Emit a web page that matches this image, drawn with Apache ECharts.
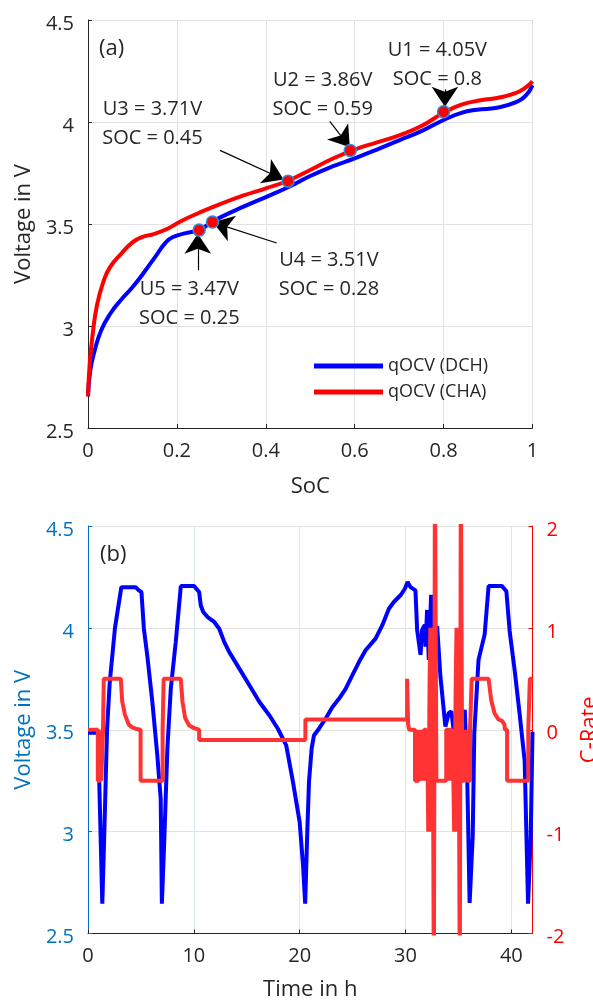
<!DOCTYPE html>
<html>
<head>
<meta charset="utf-8">
<script src="https://cdn.jsdelivr.net/npm/echarts@6/dist/echarts.min.js"></script>
<style>html,body{margin:0;padding:0;background:#fff}#c{width:593px;height:1001px}</style>
</head>
<body>
<div id="c"></div>
<script>
// ---------- (a) qOCV curves: [SoC, Voltage] ----------
const qocvDCH = [
  [0,2.655],[0.005,2.78],[0.015,2.88],[0.03,2.98],[0.05,3.06],[0.075,3.13],[0.1,3.19],[0.125,3.26],
  [0.15,3.335],[0.175,3.41],[0.19,3.435],[0.22,3.455],[0.25,3.47],[0.275,3.505],[0.3,3.535],
  [0.35,3.585],[0.4,3.632],[0.45,3.68],[0.5,3.735],[0.55,3.782],[0.6,3.822],[0.65,3.865],[0.7,3.91],
  [0.75,3.955],[0.8,4.01],[0.84,4.045],[0.875,4.06],[0.92,4.07],[0.96,4.095],[0.985,4.13],[1.0,4.18]
];
const qocvCHA = [
  [0,2.655],[0.004,2.82],[0.01,2.95],[0.02,3.1],[0.035,3.22],[0.05,3.29],[0.075,3.355],[0.1,3.41],
  [0.12,3.435],[0.15,3.452],[0.18,3.478],[0.21,3.515],[0.25,3.555],[0.3,3.6],[0.35,3.64],[0.4,3.675],
  [0.45,3.712],[0.5,3.765],[0.55,3.82],[0.6,3.865],[0.65,3.9],[0.7,3.935],[0.75,3.98],[0.8,4.045],
  [0.84,4.085],[0.88,4.105],[0.92,4.118],[0.96,4.14],[0.985,4.17],[1.0,4.2]
];
const seriesNamesA = ['qOCV (DCH)', 'qOCV (CHA)'];
// annotated points [SoC, V]
const markerPoints = [[0.80,4.05],[0.59,3.86],[0.45,3.71],[0.28,3.51],[0.25,3.47]];
const annoLabels = [
  ['U1 = 4.05V','SOC = 0.8'],
  ['U2 = 3.86V','SOC = 0.59'],
  ['U3 = 3.71V','SOC = 0.45'],
  ['U4 = 3.51V','SOC = 0.28'],
  ['U5 = 3.47V','SOC = 0.25']
];
// text anchor (data coords) and arrows tail -> tip (data coords)
const annoTextAt = [[0.786,4.28],[0.528,4.135],[0.145,3.989],[0.542,3.251],[0.228,3.11]];
const annoArrows = [
  [[0.803,4.16],[0.803,4.075]],
  [[0.544,4.003],[0.589,3.876]],
  [[0.297,3.861],[0.440,3.718]],
  [[0.4245,3.407],[0.281,3.508]],
  [[0.247,3.273],[0.247,3.452]]
];

// ---------- (b) time series: [time h, value] ----------
const voltage = [
  [0,3.485],[0.95,3.485],[1.35,2.646],[1.52,2.95],[1.8,3.5],[2.05,3.73],[2.55,4.0],[3.15,4.2],
  [4.5,4.2],[4.8,4.184],[5.05,4.176],[5.28,3.996],[5.6,3.865],[6.08,3.636],[6.55,3.374],[6.87,3.161],
  [6.98,2.646],[7.18,2.916],[7.5,3.407],[7.82,3.70],[8.29,3.93],[8.77,4.205],[10.03,4.205],[10.5,4.176],
  [10.66,4.11],[10.89,4.078],[11.3,4.053],[11.93,4.029],[12.4,3.996],[12.88,3.93],[13.35,3.881],
  [14.3,3.8],[15.25,3.718],[16.2,3.636],[17.15,3.57],[17.94,3.505],[18.73,3.423],[19.37,3.243],
  [20.0,3.047],[20.32,2.834],[20.52,2.646],[20.72,2.998],[20.88,3.243],[21.13,3.407],[21.35,3.472],
  [21.82,3.505],[22.45,3.554],[23.08,3.611],[23.71,3.652],[24.34,3.701],[24.97,3.767],[25.6,3.832],
  [26.23,3.89],[27.17,3.947],[27.8,4.012],[28.43,4.094],[28.9,4.127],[29.53,4.16],[29.94,4.192],
  [30.2,4.225],[30.47,4.2],[30.94,4.184],[31.1,3.99],[31.42,3.868],[31.57,3.99],[31.82,4.015],
  [31.89,3.908],[32.04,4.088],[32.2,3.843],[32.42,4.162],[32.58,3.99],[32.99,4.007],[33.3,3.761],
  [33.77,3.516],[34.09,3.582],[34.34,3.59],[34.65,3.451],[35.19,3.484],[35.6,3.598],[35.82,3.304],
  [36.06,2.65],[36.35,2.977],[36.5,3.484],[36.9,3.843],[37.48,3.968],[37.85,4.205],[39.12,4.205],
  [39.53,4.18],[39.84,3.985],[40.32,3.79],[40.79,3.575],[41.26,3.346],[41.58,2.646],[41.83,2.97],[42.0,3.49]
];
const cRate = [
  [0,0],[0.93,0],[0.93,-0.5],[1.15,-0.5],[1.15,0],[1.25,0],[1.25,-0.5],[1.42,-0.5],[1.42,0],[1.49,0],
  [1.49,0.5],[3.1,0.5],[3.23,0.28],[3.48,0.15],[3.86,0.05],[4.18,0.023],[4.5,0.01],[4.6,0],[4.97,0],
  [4.97,-0.5],[7.05,-0.5],[7.05,0],[7.15,0],[7.15,0.5],[8.77,0.5],[8.92,0.28],[9.18,0.115],[9.56,0.042],
  [10.03,0.016],[10.2,0],[10.5,0],[10.5,-0.1],[20.54,-0.1],[20.54,0.1],[30.15,0.1],[30.15,0.5],
  [30.25,0.5],[30.25,0.05],[30.35,0],[30.9,0],[30.9,-0.5],[31.25,-0.5],[31.25,0],[31.4,0],[31.4,-0.5],
  [31.5,-0.5],[31.5,0],[31.68,0],[31.68,-0.5],[31.75,-0.5],[31.75,0],[31.95,0],[31.95,-0.5],[32.05,-0.5],
  [32.05,0],[32.15,0],[32.15,-1],[32.28,-1],[32.28,0.5],[32.35,0.5],[32.35,1],[32.5,1],[32.5,-1],
  [32.55,-1],[32.55,1],[32.65,1],[32.68,-2.6],[32.75,-2.6],[32.78,2.6],[32.88,2.6],[32.92,-0.5],
  [33.85,-0.5],[33.85,0],[34.05,0],[34.05,-0.5],[34.15,-0.5],[34.15,0],[34.35,0],[34.35,-0.5],
  [34.45,-0.5],[34.45,0],[34.6,0],[34.6,-1],[34.75,-1],[34.75,0.5],[34.82,0.5],[34.82,1],[34.95,1],
  [34.95,-1],[35.0,-1],[35.0,1],[35.1,1],[35.13,-2.6],[35.2,-2.6],[35.23,2.6],[35.32,2.6],[35.36,-0.5],
  [35.55,-0.5],[35.55,0],[35.65,0],[35.65,-0.5],[35.75,-0.5],[35.75,0],[35.82,0],[35.82,-0.5],
  [36.1,-0.5],[36.1,0],[36.25,0],[36.25,0.5],[37.85,0.5],[38.1,0.29],[38.42,0.16],[38.8,0.1],
  [39.1,0.09],[39.35,0.05],[39.4,0],[39.6,0],[39.6,-0.5],[41.6,-0.5],[41.6,0],[41.75,0],[41.75,0.5],[42,0.5]
];
const seriesNamesB = ['Voltage', 'C-Rate'];

// ---------- styling ----------
const FONT = '"Open Sans", "Noto Sans", sans-serif';
const TXT = '#262626';
const VBLUE = '#0072BD';
const RRED = '#FF0000';

function valueAxis(o) {
  const c = o.color || TXT;
  return Object.assign({
    type: 'value',
    nameLocation: 'middle',
    nameTextStyle: { fontSize: 22, color: c, fontFamily: FONT },
    axisLine: { show: true, onZero: false, lineStyle: { color: c, width: 1 } },
    axisTick: { show: true, inside: true, length: 4, lineStyle: { color: c } },
    axisLabel: Object.assign({ fontSize: 20, color: c, fontFamily: FONT, margin: 13 }, o.label || {}),
    splitLine: { show: true, lineStyle: { color: o.gridColor || '#e2e2e2', width: 1 } }
  }, o.extra);
}
const yLabelShift = { verticalAlign: 'top', lineHeight: 8, margin: 14 };

const option = {
  animation: false,
  backgroundColor: '#ffffff',
  textStyle: { fontFamily: FONT },
  title: [
    { text: '(a)', left: 99, top: 36, padding: 0, textStyle: { fontSize: 22, fontWeight: 'normal', color: TXT, fontFamily: FONT, lineHeight: 26 } },
    { text: '(b)', left: 100, top: 542, padding: 0, textStyle: { fontSize: 22, fontWeight: 'normal', color: TXT, fontFamily: FONT, lineHeight: 26 } }
  ],
  legend: {
    data: seriesNamesA.map(n => ({ name: n, icon: 'rect' })),
    orient: 'vertical', left: 314, top: 356, padding: 0,
    itemWidth: 69, itemHeight: 5, itemGap: 6,
    textStyle: { fontSize: 18, color: TXT, fontFamily: FONT, lineHeight: 20 },
    selectedMode: false
  },
  grid: [
    { left: 88, top: 20, width: 444.5, height: 408, outerBoundsMode: 'none', containLabel: false },
    { left: 88, top: 526, width: 444.5, height: 407.5, outerBoundsMode: 'none', containLabel: false }
  ],
  xAxis: [
    valueAxis({ extra: { gridIndex: 0, min: 0, max: 1, interval: 0.2, name: 'SoC', nameGap: 48 } }),
    valueAxis({ gridColor: '#dde6ef', label: { showMaxLabel: false }, extra: { gridIndex: 1, min: 0, max: 42, interval: 10, name: 'Time in h', nameGap: 45 } })
  ],
  yAxis: [
    valueAxis({ label: yLabelShift, extra: { gridIndex: 0, min: 2.5, max: 4.5, interval: 0.5, name: 'Voltage in V', nameGap: 50 } }),
    valueAxis({ color: VBLUE, label: yLabelShift, gridColor: '#dde6ef', extra: { gridIndex: 1, min: 2.5, max: 4.5, interval: 0.5, name: 'Voltage in V', nameGap: 50 } }),
    valueAxis({ color: RRED, label: yLabelShift, extra: { gridIndex: 1, position: 'right', min: -2, max: 2, interval: 1, name: 'C-Rate', nameGap: 46 } })
  ],
  series: [
    { name: seriesNamesA[0], type: 'line', xAxisIndex: 0, yAxisIndex: 0, data: qocvDCH,
      showSymbol: false, smooth: 0.5, lineStyle: { color: '#0000FF', width: 4 }, itemStyle: { color: '#0000FF' }, z: 2 },
    { name: seriesNamesA[1], type: 'line', xAxisIndex: 0, yAxisIndex: 0, data: qocvCHA,
      showSymbol: false, smooth: 0.5, lineStyle: { color: '#FF0000', width: 4 }, itemStyle: { color: '#FF0000' }, z: 3 },
    { name: 'points', type: 'scatter', xAxisIndex: 0, yAxisIndex: 0, data: markerPoints,
      symbolSize: 12, itemStyle: { color: '#FF0000', borderColor: '#2c8ddc', borderWidth: 1.5, opacity: 1 }, z: 5 },
    { name: 'annotations', type: 'scatter', xAxisIndex: 0, yAxisIndex: 0, symbolSize: 1, silent: true, z: 6,
      itemStyle: { opacity: 0 },
      data: annoTextAt.map((p, i) => ({ value: p, label: { formatter: annoLabels[i].join('\n') } })),
      label: { show: true, position: 'inside', fontSize: 20, lineHeight: 29, color: TXT, opacity: 1, fontFamily: FONT, align: 'center', verticalAlign: 'middle' },
      markLine: {
        silent: true, animation: false,
        label: { show: false },
        lineStyle: { color: '#000000', width: 1.2, type: 'solid', opacity: 1 },
        itemStyle: { color: '#000000', opacity: 1 },
        emphasis: { disabled: true },
        data: annoArrows.map(a => [
          { coord: a[0], symbol: 'none' },
          { coord: a[1], symbol: 'arrow', symbolSize: 20 }
        ])
      }
    },
    { name: seriesNamesB[0], type: 'line', xAxisIndex: 1, yAxisIndex: 1, data: voltage,
      showSymbol: false, lineStyle: { color: '#0000FF', width: 4 }, itemStyle: { color: '#0000FF' }, z: 2 },
    { name: seriesNamesB[1], type: 'line', xAxisIndex: 1, yAxisIndex: 2, data: cRate, clip: true,
      showSymbol: false, lineStyle: { color: '#FF3333', width: 4 }, itemStyle: { color: '#FF3333' }, z: 3 }
  ]
};

const chart = echarts.init(document.getElementById('c'), null, { renderer: 'canvas' });
chart.setOption(option);
</script>
</body>
</html>
